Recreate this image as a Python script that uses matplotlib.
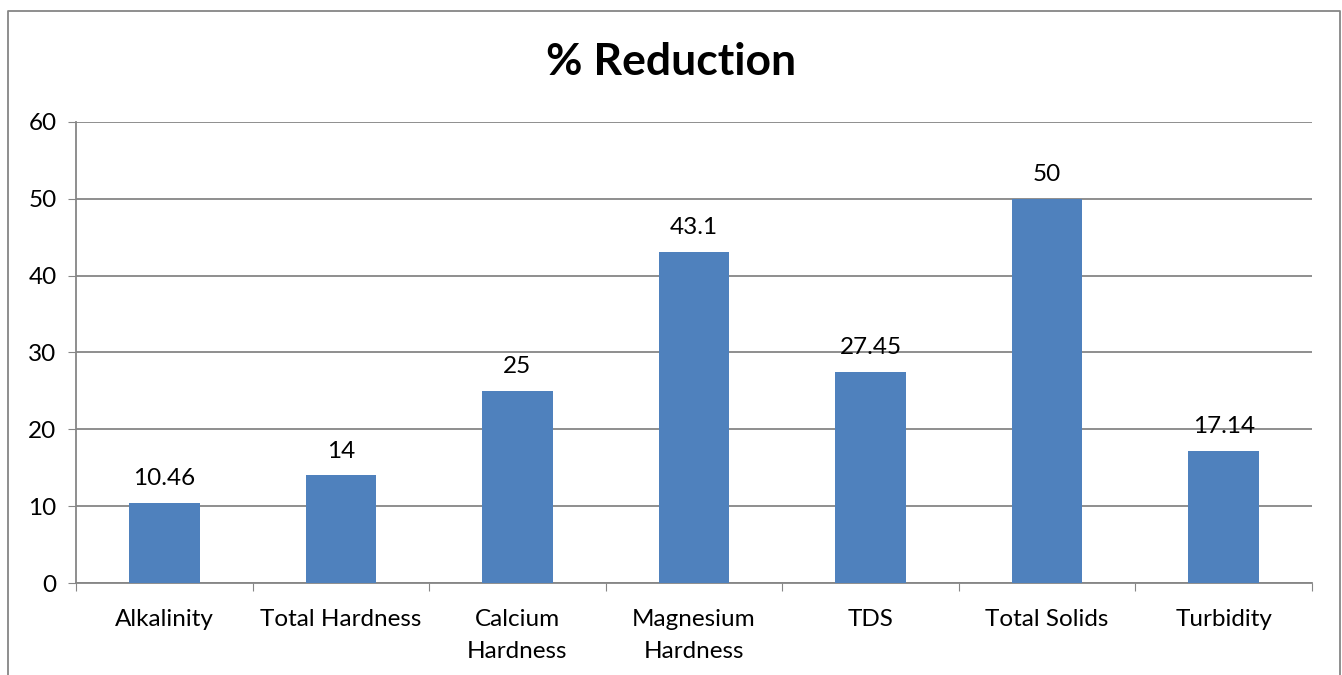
import matplotlib.pyplot as plt
from matplotlib.lines import Line2D
import numpy as np

categories = ['Alkalinity', 'Total Hardness', 'Calcium\nHardness', 'Magnesium\nHardness',
              'TDS', 'Total Solids', 'Turbidity']
values = [10.46, 14, 25, 43.1, 27.45, 50, 17.14]
labels = ['10.46', '14', '25', '43.1', '27.45', '50', '17.14']

plt.rcParams['font.family'] = ['Lato', 'DejaVu Sans']

fig = plt.figure(figsize=(13.42, 6.75), dpi=100)
ax = fig.add_axes([76 / 1342, 92 / 675, 1236 / 1342, 461 / 675])

grey = '#868686'
x = np.arange(len(categories))
ax.bar(x, values, width=0.4, color='#4f81bd', zorder=3)

for xi, v, lab in zip(x, values, labels):
    ax.annotate(lab, (xi, v), xytext=(0, 10), textcoords='offset points',
                ha='center', va='bottom', fontsize=17.5, color='black')

ax.set_xlim(-0.5, len(categories) - 0.5)
ax.set_ylim(0, 60)
ax.set_yticks(range(0, 61, 10))
ax.tick_params(axis='y', labelsize=17.5, length=6, color=grey, pad=8)
ax.yaxis.grid(True, color=grey, linewidth=1.3, zorder=0)

ax.set_xticks(np.arange(-0.5, len(categories), 1.0))
ax.set_xticklabels([])
ax.set_xticks(x, minor=True)
ax.set_xticklabels(categories, minor=True, fontsize=17.5, linespacing=1.6, va='top')
ax.tick_params(axis='x', which='major', length=6, color=grey)
ax.tick_params(axis='x', which='minor', length=0, pad=19)

for s in ['top', 'right']:
    ax.spines[s].set_visible(False)
for s in ['left', 'bottom']:
    ax.spines[s].set_color(grey)
    ax.spines[s].set_linewidth(1.3)

fig.text(0.5, 1 - 62 / 675, '% Reduction', ha='center', va='center',
         fontsize=32, fontweight='bold')

# outer chart frame
fx0, fx1, fy1 = 7.5 / 1342, 1339.5 / 1342, 1 - 10.5 / 675
fig.add_artist(Line2D([fx0, fx0, fx1, fx1], [0, fy1, fy1, 0], color=grey, linewidth=1.3))

fig.savefig('out.png', dpi=100)
